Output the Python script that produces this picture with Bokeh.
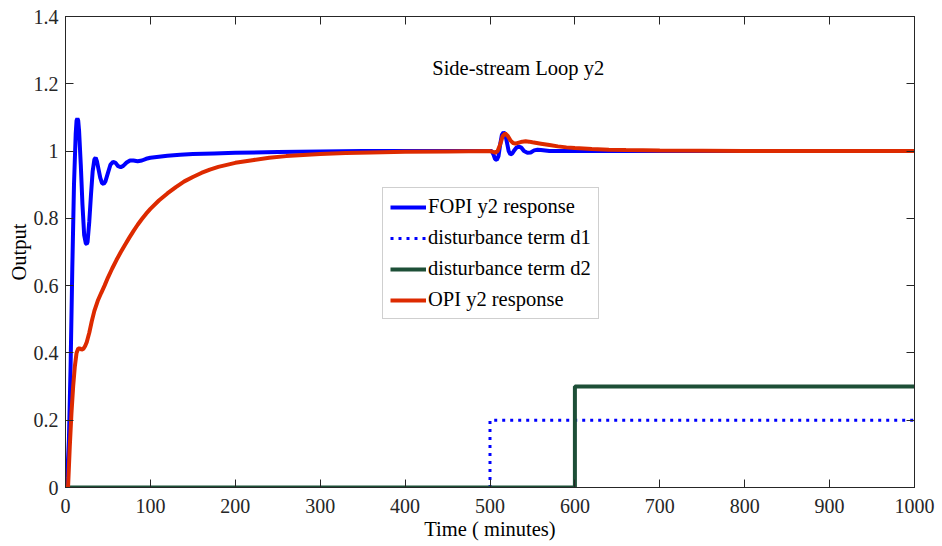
from bokeh.plotting import figure
from bokeh.models import (Range1d, FixedTicker, CustomJSTickFormatter, LinearAxis,
                          Legend, LegendItem, Label)
from bokeh.embed import file_html
from bokeh.resources import INLINE

# ---------------- data ----------------
fopi_t = [0, 1, 2, 4, 6, 8, 10, 12, 13, 14, 15, 16, 18, 20, 22, 24, 25, 26, 28, 30,
          32, 34, 35.5, 37, 39, 41, 43, 45, 47, 50, 53, 56, 59, 62, 65, 68, 72, 76, 80,
          85, 90, 95, 100, 110, 120, 135, 150, 175, 200, 250, 300, 350, 400, 450, 500,
          502, 504, 506, 508, 510, 512, 514, 516, 518, 520, 522, 524, 526, 528, 531,
          534, 537, 540, 544, 548, 552, 556, 560, 570, 600, 700, 800, 900, 1000]
fopi_y = [0, 0.0, 0.03, 0.14, 0.36, 0.65, 0.90, 1.05, 1.09, 1.097, 1.09, 1.06, 0.96,
          0.84, 0.75, 0.725, 0.724, 0.73, 0.79, 0.87, 0.94, 0.975, 0.98, 0.97, 0.945,
          0.92, 0.905, 0.902, 0.91, 0.935, 0.96, 0.968, 0.965, 0.955, 0.952, 0.956,
          0.966, 0.972, 0.972, 0.970, 0.972, 0.977, 0.980, 0.983, 0.986, 0.989, 0.991,
          0.993, 0.995, 0.997, 0.999, 1.0, 1.0, 1.0, 1.0,
          1.0, 0.99, 0.976, 0.974, 0.985, 1.02, 1.048, 1.056, 1.05, 1.025, 1.0, 0.99,
          0.992, 1.0, 1.01, 1.013, 1.01, 1.0, 0.995, 0.996, 1.002, 1.004, 1.003, 1.0,
          1.0, 1.0, 1.0, 1.0, 1.0]

opi_t = [0, 3, 5, 7, 9, 11, 13, 15, 17, 19, 21, 23, 25, 28, 31, 34, 38, 42, 46, 50,
         55, 60, 65, 70, 75, 80, 85, 90, 95, 100, 110, 120, 130, 140, 150, 160, 170,
         180, 190, 200, 220, 240, 260, 280, 300, 330, 360, 400, 450, 500, 503, 506,
         509, 512, 515, 518, 521, 524, 527, 530, 534, 538, 542, 546, 550, 560, 570,
         580, 590, 600, 620, 640, 660, 700, 750, 800, 900, 1000]
opi_y = [0, 0.0, 0.12, 0.22, 0.30, 0.36, 0.40, 0.413, 0.413, 0.41, 0.412, 0.42, 0.432,
         0.46, 0.495, 0.525, 0.555, 0.578, 0.60, 0.624, 0.651, 0.676, 0.699, 0.721,
         0.742, 0.762, 0.781, 0.798, 0.814, 0.828, 0.853, 0.874, 0.893, 0.910, 0.923,
         0.935, 0.945, 0.953, 0.959, 0.965, 0.973, 0.980, 0.985, 0.988, 0.991, 0.994,
         0.996, 0.998, 0.999, 1.0, 0.998, 0.995, 1.0, 1.02, 1.045, 1.052, 1.045, 1.032,
         1.024, 1.022, 1.025, 1.028, 1.029, 1.028, 1.026, 1.022, 1.018, 1.014, 1.011,
         1.009, 1.006, 1.004, 1.003, 1.002, 1.001, 1.0, 1.0, 1.0]

d1_t = [0, 500, 500, 1000]
d1_y = [0, 0, 0.2, 0.2]
d2_t = [0, 600, 600, 1000]
d2_y = [0, 0, 0.3, 0.3]

x_ticks = [0, 100, 200, 300, 400, 500, 600, 700, 800, 900, 1000]
y_ticks = [0, 0.2, 0.4, 0.6, 0.8, 1.0, 1.2, 1.4]

names = ["FOPI y2 response", "disturbance term d1", "disturbance term d2", "OPI y2 response"]
title_text = "Side-stream Loop y2"
x_label = "Time ( minutes)"
y_label = "Output"

FONT = "Liberation Serif"
AX = "#262626"
TXT = "20.5px"

p = figure(width=942, height=546, output_backend="svg", toolbar_location=None,
           x_range=Range1d(0, 1000), y_range=Range1d(0, 1.4),
           min_border_left=65, min_border_right=28, min_border_top=16, min_border_bottom=59,
           background_fill_color="white", border_fill_color="white")
p.grid.visible = False
p.outline_line_color = AX
p.outline_line_width = 1

fmt = CustomJSTickFormatter(code="return String(Math.round(tick*10)/10)")

def style_axis(ax, show_labels=True):
    ax.axis_line_color = AX
    ax.major_tick_line_color = AX
    ax.minor_tick_line_color = None
    ax.major_tick_in = 8
    ax.major_tick_out = 0
    ax.major_label_text_font = FONT
    if show_labels:
        ax.major_label_text_font_size = "20px"
        ax.major_label_text_color = AX
    else:
        ax.major_label_text_font_size = "0px"
        ax.major_label_text_color = None
        ax.major_label_standoff = 0
    ax.axis_label_text_font = FONT
    ax.axis_label_text_font_size = TXT
    ax.axis_label_text_font_style = "normal"
    ax.axis_label_text_color = "#000000"

p.xaxis.ticker = FixedTicker(ticks=x_ticks)
p.yaxis.ticker = FixedTicker(ticks=y_ticks)
p.yaxis.formatter = fmt
p.xaxis.axis_label = x_label
p.yaxis.axis_label = y_label
style_axis(p.xaxis[0])
style_axis(p.yaxis[0])
p.xaxis.major_label_standoff = 11
p.yaxis.major_label_standoff = 7
p.xaxis.axis_label_standoff = 2
p.yaxis.axis_label_standoff = 1

top_ax = LinearAxis(ticker=FixedTicker(ticks=x_ticks))
right_ax = LinearAxis(ticker=FixedTicker(ticks=y_ticks))
for a in (top_ax, right_ax):
    style_axis(a, show_labels=False)
p.add_layout(top_ax, "above")
p.add_layout(right_ax, "right")

r_fopi = p.line(fopi_t, fopi_y, line_color="#0000ff", line_width=4)
r_d1 = p.line(d1_t, d1_y, line_color="#0000ff", line_width=3, line_dash="3 5")
r_d2 = p.line(d2_t, d2_y, line_color="#1d4f37", line_width=4)
r_opi = p.line(opi_t, opi_y, line_color="#dd2a00", line_width=4)

legend = Legend(items=[LegendItem(label=names[0], renderers=[r_fopi]),
                       LegendItem(label=names[1], renderers=[r_d1]),
                       LegendItem(label=names[2], renderers=[r_d2]),
                       LegendItem(label=names[3], renderers=[r_opi])],
                location=(317, 168))
legend.label_text_font = FONT
legend.label_text_font_size = TXT
legend.label_text_color = "#000000"
legend.glyph_width = 36
legend.glyph_height = 20
legend.label_height = 20
legend.label_standoff = 2
legend.spacing = 8
legend.padding = 7
legend.margin = 0
legend.border_line_color = "#a0a0a0"
legend.border_line_width = 1.5
legend.background_fill_color = "white"
legend.background_fill_alpha = 1
p.add_layout(legend, "center")

p.add_layout(Label(x=432, y=1.246, text=title_text, text_font=FONT,
                   text_font_size=TXT, text_color="#000000",
                   text_baseline="alphabetic"))

open("out.html", "w").write(file_html(p, INLINE))
